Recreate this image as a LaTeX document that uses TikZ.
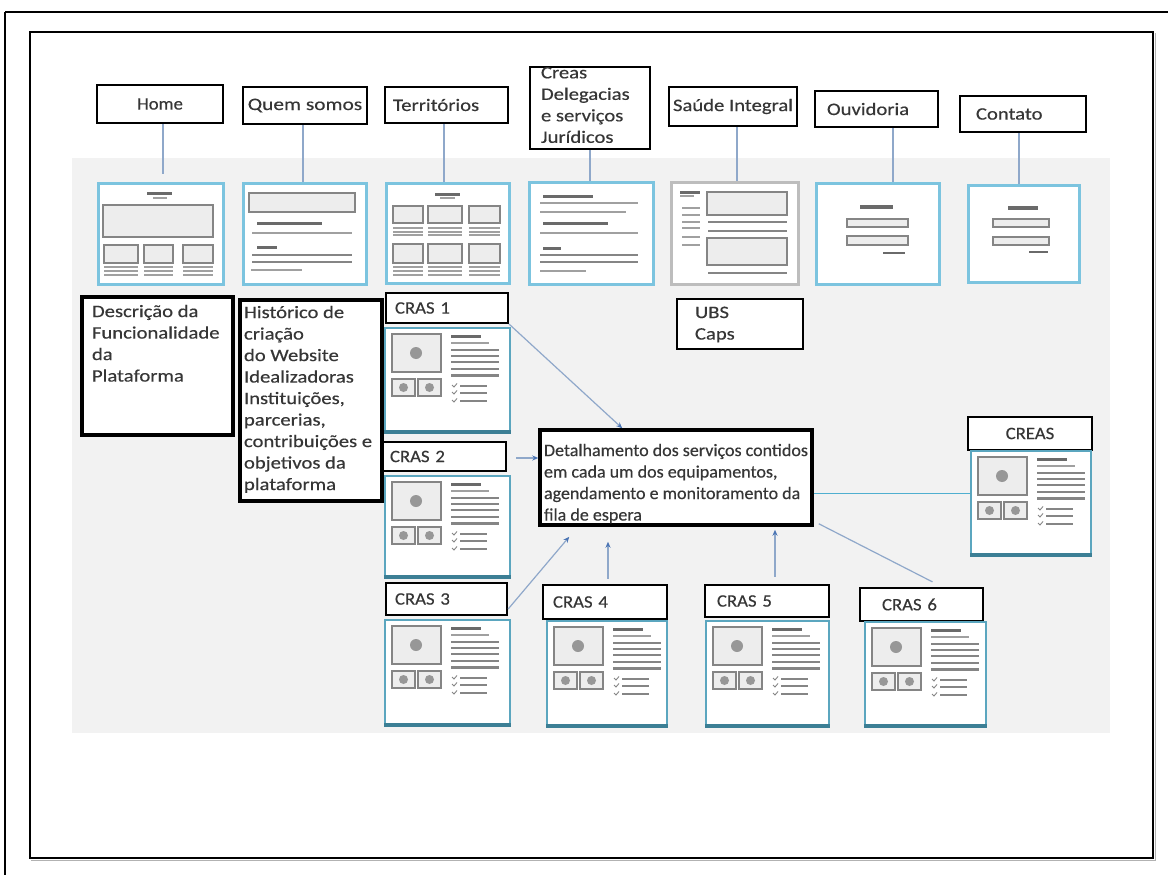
\documentclass[tikz,border=0pt]{standalone}
\usepackage{fontspec}
\setmainfont{Carlito}[FakeStretch=1.18,FakeBold=0.4]
\newfontfamily\detfont{Carlito}[FakeStretch=1.03,FakeBold=0.4]
\newfontfamily\fC{Carlito}[FakeStretch=1.07,FakeBold=0.4]
\newfontfamily\fQ{Carlito}[FakeStretch=1.22,FakeBold=0.4]
\usetikzlibrary{calc,arrows.meta}
\definecolor{bggray}{HTML}{F2F2F2}
\definecolor{txtc}{HTML}{363636}
\definecolor{tlight}{HTML}{7CC4DF}
\definecolor{tteal}{HTML}{5BA6BF}
\definecolor{tdark}{HTML}{3C7F95}
\definecolor{tgray}{HTML}{BDBDBD}
\definecolor{wline}{HTML}{858585}
\definecolor{wfill}{HTML}{EDEDED}
\definecolor{wdk}{HTML}{6A6A6A}
\definecolor{wlt}{HTML}{A0A0A0}
\definecolor{connc}{HTML}{8FA8CA}
\definecolor{arrc}{HTML}{4A74B4}
\definecolor{creasl}{HTML}{4FAFD0}
\newcommand\crasin[1]{%
\begin{scope}[shift={(#1.north west)}]
 \draw[wbox] (8,7) rectangle (57,45);
 \fill[wcirc] (32,26) circle (6);
 \draw[wbox] (8,52) rectangle (31,69);
 \draw[wbox] (34,52) rectangle (57,69);
 \fill[wcirc] (19.5,60.5) circle (4.5);
 \fill[wcirc] (45.5,60.5) circle (4.5);
 \draw[wdark] (67,9) -- (97,9);
 \draw[wthin] (67,16) -- (105,16);
 \foreach \yy in {23,29,35,42,48.5} \draw[wmid] (67,\yy) -- (115,\yy);
 \foreach \yy in {59,66,74} {\draw[wtick] (68,\yy-1) -- (70,\yy+1) -- (73,\yy-2.5); \draw[wmid] (76,\yy) -- (103,\yy);}
\end{scope}}
\begin{document}
\begin{tikzpicture}[x=1pt,y=-1pt,
  lbl/.style={draw=black,line width=2.2pt,fill=white,inner sep=0pt,text=txtc,font=\fontsize{17.5}{21.5}\selectfont},
  heavy/.style={lbl,line width=3.5pt},
  thumb/.style={draw=tlight,line width=2.6pt,fill=white,inner sep=0pt,anchor=north west},
  crasthumb/.style={thumb,draw=tteal,line width=2.2pt},
  wbox/.style={draw=wline,line width=1.6pt,fill=wfill},
  wdark/.style={draw=wdk,line width=3pt},
  wthin/.style={draw=wlt,line width=1.5pt},
  wmid/.style={draw=wline,line width=2.1pt},
  wtick/.style={draw=wline,line width=0.9pt},
  wcirc/.style={fill=wline!85},
  conn/.style={draw=connc,line width=1.2pt},
  arr/.style={conn,-{Stealth[length=6pt,width=5pt,color=arrc]}},
]
\useasboundingbox (0,0) rectangle (1168,875);
\fill[white] (0,0) rectangle (1168,875);
% frames
\draw[line width=2.5pt] (5,12) -- (1168,12);
\draw[line width=2pt] (5,12) -- (5,875);
\draw[line width=1.2pt] (30,32) rectangle (1153,858);
\draw[gray!60,line width=1pt] (31,860) -- (1155,860) -- (1155,33);
% gray background
\fill[bggray] (72,158) rectangle (1110,733);

% top labels
\node[lbl,minimum width=126,minimum height=38,font=\fontsize{17.5}{21.5}\fC] (homel) at (160,104) {Home};
\node[lbl,minimum width=124,minimum height=37,font=\fontsize{17.5}{21.5}\fQ] (queml) at (305,105.5) {Quem somos};
\node[lbl,text width=107,inner xsep=8,minimum height=36,align=left] (terrl) at (446.5,105) {Territórios};
\node[lbl,inner xsep=11,inner ysep=0] (creasbl) at (590,108) {\parbox[c][82pt][t]{98pt}{\raggedright Creas\\Delegacias\\e serviços\\Jurídicos}};
\node[lbl,minimum width=128,minimum height=39] (saudel) at (733,106.5) {Saúde Integral};
\node[lbl,text width=99,inner xsep=12,minimum height=36,align=left] (ouvl) at (876.5,109) {Ouvidoria};
\node[lbl,text width=94,inner xsep=16,minimum height=36,align=left] (contl) at (1023,114) {\raisebox{-3pt}{Contato}};

% top thumbnails
\node[thumb,minimum width=125,minimum height=101] (homet) at (97,182) {};
\begin{scope}[shift={(homet.north west)}]
 \draw[wdark] (50,11) -- (75,11);
 \draw[wthin] (56,16) -- (70,16);
 \draw[wbox] (6,23) rectangle (116,55);
 \foreach \xa/\xb in {7/41,47/76,86/116} {
   \draw[wbox] (\xa,63) rectangle (\xb,81);
   \foreach \yy in {85,89,93} \draw[wthin] (\xa,\yy) -- (\xb,\yy);}
\end{scope}
\node[thumb,minimum width=123,minimum height=101] (quemt) at (242,182) {};
\begin{scope}[shift={(quemt.north west)}]
 \draw[wbox] (7,11) rectangle (113,30);
 \draw[wdark] (15,41) -- (80,41);
 \draw[wthin] (10,51) -- (110,51);
 \draw[wdark] (15,65) -- (35,65);
 \draw[wmid] (10,73) -- (110,73);
 \draw[wmid] (10,80) -- (110,80);
 \draw[wthin] (9,88) -- (60,88);
\end{scope}
\node[thumb,minimum width=123,minimum height=100] (terrt) at (385,182) {};
\begin{scope}[shift={(terrt.north west)}]
 \draw[wdark] (50,12) -- (75,12);
 \draw[wthin] (55,16) -- (70,16);
 \foreach \xa/\xb in {8/38,43/77,84/115} {
   \draw[wbox] (\xa,24) rectangle (\xb,41);
   \foreach \yy in {46,50,53} \draw[wthin] (\xa,\yy) -- (\xb,\yy);
   \draw[wbox] (\xa,62) rectangle (\xb,81);
   \foreach \yy in {85,89,93} \draw[wthin] (\xa,\yy) -- (\xb,\yy);}
\end{scope}
\node[thumb,minimum width=124,minimum height=102] (creast2) at (528,181) {};
\begin{scope}[shift={(creast2.north west)}]
 \draw[wdark] (15,15) -- (65,15);
 \draw[wthin] (12,22) -- (110,22);
 \draw[wthin] (12,31) -- (98,31);
 \draw[wdark] (15,42) -- (80,42);
 \draw[wthin] (12,52) -- (110,52);
 \draw[wdark] (15,67) -- (33,67);
 \draw[wmid] (12,74) -- (110,74);
 \draw[wmid] (12,81) -- (110,81);
 \draw[wthin] (12,90) -- (58,90);
\end{scope}
\node[thumb,draw=tgray,minimum width=127,minimum height=102] (saudet) at (670,181) {};
\begin{scope}[shift={(saudet.north west)}]
 \draw[wdark] (10,11) -- (30,11);
 \draw[wthin] (10,15) -- (24,15);
 \foreach \yy in {27,34,41,47,56,64} \draw[wthin] (12,\yy) -- (30,\yy);
 \draw[wbox] (37,11) rectangle (117,34);
 \draw[wmid] (38,41) -- (117,41);
 \draw[wmid] (38,50) -- (117,50);
 \draw[wbox] (37,57) rectangle (117,84);
 \draw[wmid] (38,92) -- (117,92);
\end{scope}
\node[thumb,minimum width=123,minimum height=101] (ouvt) at (815,182) {};
\begin{scope}[shift={(ouvt.north west)}]
 \draw[wdk,line width=3.5pt] (45,25) -- (78,25);
 \draw[wbox] (32,37) rectangle (93,45);
 \draw[wbox] (32,54) rectangle (93,63);
 \draw[wdk,line width=2.5pt] (68,71) -- (90,71);
\end{scope}
\node[thumb,minimum width=111,minimum height=97,line width=2.8pt] (contt) at (967,184) {};
\begin{scope}[shift={(contt.north west)}]
 \draw[wdk,line width=3.5pt] (41,24) -- (71,24);
 \draw[wbox] (26,35) rectangle (82,43);
 \draw[wbox] (26,53) rectangle (82,61);
 \draw[wdk,line width=2.5pt] (62,68) -- (81,68);
\end{scope}

% top connectors
\draw[conn,shorten >=8pt] ([xshift=3pt]homel.south) -- ([xshift=3pt]homel.south |- homet.north);
\draw[conn] ([xshift=-2pt]queml.south) -- ([xshift=-2pt]queml.south |- quemt.north);
\draw[conn] ([xshift=-2.5pt]terrl.south) -- ([xshift=-2.5pt]terrl.south |- terrt.north);
\draw[conn] (creasbl.south) -- (creasbl.south |- creast2.north);
\draw[conn] ([xshift=4pt]saudel.south) -- ([xshift=4pt]saudel.south |- saudet.north);
\draw[conn] ([xshift=16.5pt]ouvl.south) -- ([xshift=16.5pt]ouvl.south |- ouvt.north);
\draw[conn] ([xshift=-4pt]contl.south) -- ([xshift=-4pt]contl.south |- contt.north);

% description boxes
\node[heavy,inner xsep=10,inner ysep=5] (desc) at (157.5,366) {\parbox[c][128pt][t]{131pt}{\raggedright\strut Descrição da\\Funcionalidade\\da\\Plataforma}};
\node[heavy,inner xsep=4,inner ysep=3] (hist) at (311,400.5) {\parbox[c][195pt][t]{134pt}{\raggedright\strut Histórico de\\criação\\do Website\\Idealizadoras\\Instituições,\\parcerias,\\contribuições e\\objetivos da\\plataforma}};
\node[lbl,inner xsep=18,inner ysep=4] (ubs) at (740,324) {\parbox[c][42pt][t]{90pt}{\raggedright\strut UBS\\Caps}};
\node[heavy,inner xsep=4,inner ysep=11,font=\fontsize{17.5}{21.5}\detfont] (det) at (676,477.5) {\parbox[c][73pt][t]{264pt}{\raggedright\strut Detalhamento dos serviços contidos\\em cada um dos equipamentos,\\agendamento e monitoramento da\\fila de espera}};

% CRAS labels
\tikzset{cl/.style={lbl,align=left,font=\fontsize{17.5}{21.5}\fC}}
\node[cl,text width=104,inner xsep=9,minimum height=30] (c1l) at (447,308) {CRAS 1};
\node[cl,text width=109,inner xsep=7,minimum height=29] (c2l) at (444.5,456.5) {CRAS 2};
\node[cl,text width=103,inner xsep=9,minimum height=32] (c3l) at (446.5,599) {CRAS 3};
\node[cl,text width=104,inner xsep=10,minimum height=34] (c4l) at (605,602) {CRAS 4};
\node[cl,text width=100,inner xsep=12,minimum height=32] (c5l) at (767,601) {CRAS 5};
\node[cl,text width=79,inner xsep=22,minimum height=33] (c6l) at (921.5,604.5) {CRAS 6};
\node[lbl,minimum width=124,minimum height=33,font=\fontsize{17.5}{21.5}\fC] (creasl) at (1030,433.5) {CREAS};

% CRAS thumbnails
\node[crasthumb,minimum width=125,minimum height=103] (c1t) at (384,327) {};
\node[crasthumb,minimum width=125,minimum height=100] (c2t) at (384,475) {};
\node[crasthumb,minimum width=125,minimum height=104] (c3t) at (384,619) {};
\node[crasthumb,minimum width=120,minimum height=104] (c4t) at (546,620) {};
\node[crasthumb,minimum width=123,minimum height=104] (c5t) at (705,620) {};
\node[crasthumb,minimum width=121,minimum height=103] (c6t) at (864,621) {};
\node[crasthumb,minimum width=120,minimum height=103] (creast) at (970,450) {};
\foreach \n in {c1t,c2t,c3t,c4t,c5t,c6t,creast} {
  \draw[tdark,line width=3.5pt] (\n.south west) -- (\n.south east);
  \crasin{\n}
}

% connectors to the detail box
\coordinate (c1d) at ($(det.north west)+(84,0)$);
\coordinate (c2s) at ($(c2l.east)+(9,1.5)$);
\coordinate (c3s) at ($(c3l.south east)+(0,-7)$);
\coordinate (c3d) at ($(det.south west)+(31,10)$);
\coordinate (c4s) at ($(c4l.north)+(3,-5)$);
\coordinate (c5s) at ($(c5l.north)+(8,-7)$);
\coordinate (c6d) at ($(det.south east)+(5,-3)$);
\coordinate (c6s) at ($(c6l.north)+(11,-5)$);
\coordinate (crs) at ($(det.east)+(0,16)$);
\draw[arr] (c1l.south east) -- (c1d);
\draw[arr] (c2s) -- (c2s -| det.west);
\draw[arr] (c3s) -- (c3d);
\draw[arr,shorten >=15pt] (c4s) -- (c4s |- det.south);
\draw[arr,shorten >=3pt] (c5s) -- (c5s |- det.south);
\draw[conn] (c6d) -- (c6s);
\draw[draw=creasl,line width=1.5pt] (crs) -- (crs -| creast.west);
\end{tikzpicture}
\end{document}
